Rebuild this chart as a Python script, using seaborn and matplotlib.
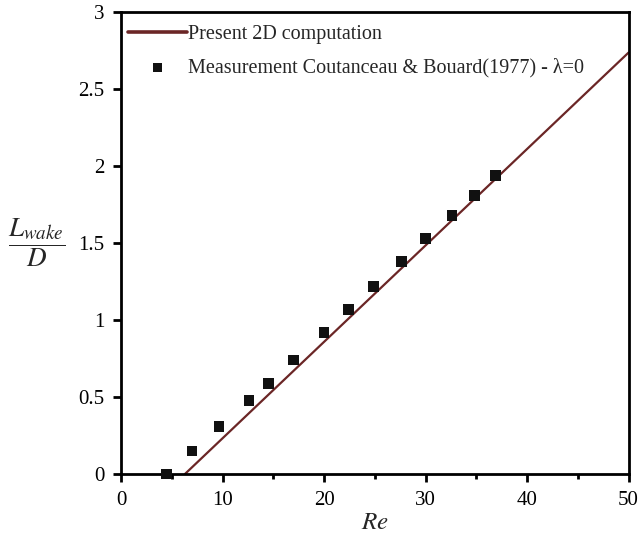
import matplotlib
matplotlib.use("Agg")
import matplotlib.pyplot as plt
import seaborn as sns
import pandas as pd
from matplotlib.ticker import MultipleLocator

# Wake length vs Reynolds number
re_computed = [6.3, 50.0]
lwake_computed = [0.0, 2.738]

re_measured = [4.5, 7.0, 9.65, 12.6, 14.5, 17.0, 20.0, 22.4, 24.9, 27.6, 30.0, 32.6, 34.8, 36.9]
lwake_measured = [0.0, 0.15, 0.31, 0.48, 0.59, 0.74, 0.92, 1.07, 1.22, 1.38, 1.53, 1.68, 1.81, 1.94]

x_ticks = [0, 10, 20, 30, 40, 50]
y_ticks = [0, 0.5, 1, 1.5, 2, 2.5, 3]
y_tick_labels = ["0", "0.5", "1", "1.5", "2", "2.5", "3"]

label_computed = "Present 2D computation"
label_measured = "Measurement Coutanceau & Bouard(1977) - \u03bb=0"

sns.set_theme(style="ticks")
plt.rcParams["font.family"] = ["Liberation Serif", "DejaVu Serif"]
plt.rcParams["mathtext.fontset"] = "stix"

line_color = "#6b2626"

df_line = pd.DataFrame({"Re": re_computed, "L": lwake_computed})
df_pts = pd.DataFrame({"Re": re_measured, "L": lwake_measured})

fig = plt.figure(figsize=(6.42, 5.39), dpi=100)
ax = fig.add_axes([0.1885, 0.1206, 0.7905, 0.8566])

sns.lineplot(data=df_line, x="Re", y="L", ax=ax, color=line_color,
             linewidth=1.6, label=label_computed, zorder=2)
sns.scatterplot(data=df_pts, x="Re", y="L", ax=ax, marker="s", s=60,
                color="#111111", edgecolor="none", label=label_measured, zorder=3,
                clip_on=False)

ax.set_xlim(0, 50)
ax.set_ylim(0, 3)
ax.set_xticks(x_ticks)
ax.set_xticklabels([str(t) for t in x_ticks])
ax.xaxis.set_minor_locator(MultipleLocator(5))
ax.set_yticks(y_ticks)
ax.set_yticklabels(y_tick_labels)

for s in ax.spines.values():
    s.set_visible(True)
    s.set_linewidth(2.0)
    s.set_color("black")

ax.tick_params(axis="both", which="major", direction="out", length=6, width=2,
               labelsize=15, colors="black", top=False, right=False)
ax.tick_params(axis="x", which="major", pad=6)
ax.tick_params(axis="y", which="major", pad=6)
ax.tick_params(axis="x", which="minor", direction="out", length=3.8, width=2,
               top=False, color="black")
ax.tick_params(axis="y", which="minor", left=False, right=False)

ax.set_xlabel("$Re$", fontsize=18, labelpad=2)
ax.set_ylabel(r"$\dfrac{L_{wake}}{D}$", fontsize=19.5, rotation=0,
              va="center", ha="center", labelpad=30)

leg = ax.legend(loc="upper left", bbox_to_anchor=(-0.008, 0.996), frameon=False,
                fontsize=14.5, handlelength=2.95, handletextpad=0.05,
                labelspacing=0.7, borderaxespad=0.35, borderpad=0.2,
                markerscale=0.8)
for h in leg.legend_handles:
    try:
        h.set_linewidth(2.6)
    except Exception:
        pass

fig.savefig("out.png", dpi=100)
